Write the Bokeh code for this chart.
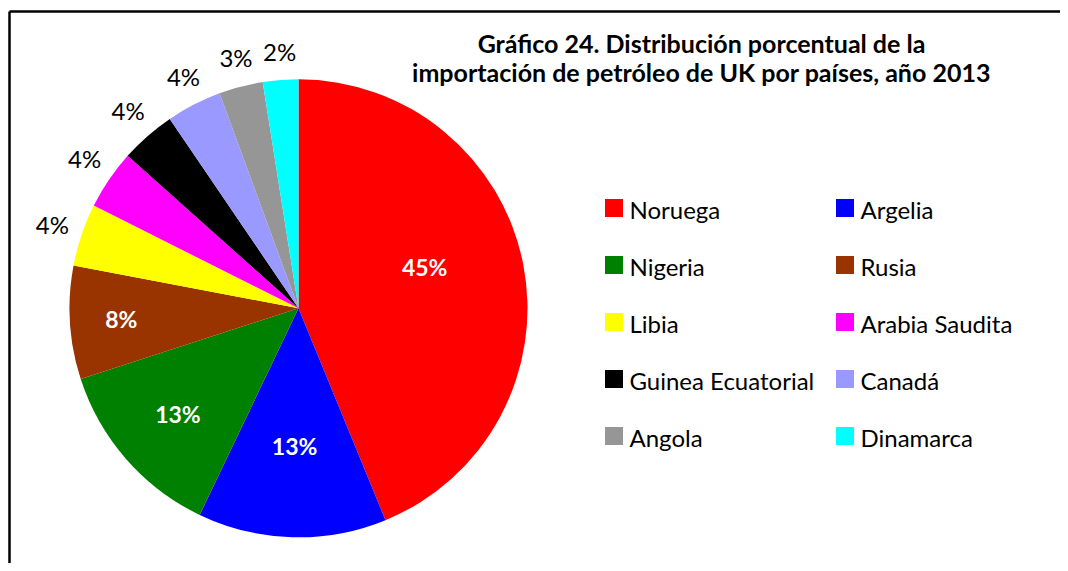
import numpy as np
from bokeh.plotting import figure
from bokeh.models import Range1d, ColumnDataSource
from bokeh.core.properties import value
from bokeh.embed import file_html
from bokeh.resources import INLINE

# ---- data ----
countries = ["Noruega", "Argelia", "Nigeria", "Rusia", "Libia", "Arabia Saudita",
             "Guinea Ecuatorial", "Canadá", "Angola", "Dinamarca"]
shares = [43.8, 13.3, 12.9, 8.0, 4.4, 4.2, 3.9, 3.9, 3.1, 2.5]
pct_labels = ["45%", "13%", "13%", "8%", "4%", "4%", "4%", "4%", "3%", "2%"]
title_lines = ["Gráfico 24. Distribución porcentual de la",
               "importación de petróleo de UK por países, año 2013"]

# ---- styles ----
colors = ["#FF0000", "#0000FF", "#008000", "#993300", "#FFFF00", "#FF00FF",
          "#000000", "#9999FF", "#969696", "#00FFFF"]
inside = [True, True, True, True, False, False, False, False, False, False]
label_rfrac = [0.58, 0.60, 0.70, 0.775, 1.135, 1.14, 1.14, 1.13, 1.13, 1.125]
label_angle_nudge = [7.0, 0, 0, 0, 0, -0.8, -0.5, -0.8, -0.6, -0.3]  # degrees
FONT = "Lato"

W, H = 1060, 563
# ranges chosen so that one data unit is one screen pixel, y pointing up
X0, Y0 = -8, 8
CX, CY, R = 290.0, 263.2, 229.0
FRAME_L, FRAME_T = 1.0, 560.0

p = figure(width=W, height=H, x_range=Range1d(X0, X0 + W), y_range=Range1d(Y0, Y0 + H),
           output_backend="svg", toolbar_location=None, min_border=0,
           x_axis_location=None, y_axis_location=None)
p.grid.visible = False
p.outline_line_color = None
p.background_fill_color = "white"
p.border_fill_color = "white"

# chart-area frame: only its left and top edges fall inside the picture
p.segment(x0=[FRAME_L, FRAME_L], y0=[FRAME_T, FRAME_T],
          x1=[X0 + W + 20, FRAME_L], y1=[FRAME_T, Y0 - 20],
          line_color="black", line_width=2.5)

frac = np.array(shares) / sum(shares)
cum = np.cumsum(frac)
start = cum - frac
start_angle = np.pi / 2 - 2 * np.pi * cum
end_angle = np.pi / 2 - 2 * np.pi * start
mid = np.pi / 2 - 2 * np.pi * (start + frac / 2)

src = ColumnDataSource(dict(start=start_angle, end=end_angle, color=colors, name=countries))
p.wedge(x=CX, y=CY, radius=R, start_angle="start", end_angle="end",
        fill_color="color", line_color=None, source=src)

# data labels
ang = mid + np.radians(label_angle_nudge)
lx = CX + np.array(label_rfrac) * R * np.cos(ang)
ly = CY + np.array(label_rfrac) * R * np.sin(ang)
ins = np.array(inside)
p.text(x=lx[ins], y=ly[ins], text=[t for t, i in zip(pct_labels, inside) if i],
       text_color="white", text_font=value(FONT), text_font_style="bold",
       text_font_size="23px", text_align="center", text_baseline="middle")
p.text(x=lx[~ins], y=ly[~ins], text=[t for t, i in zip(pct_labels, inside) if not i],
       text_color="black", text_font=value(FONT),
       text_font_size="24px", text_align="center", text_baseline="middle")

# legend (2 columns)
col_x = [605.5, 836.5]
row_y0, row_step = 363.5, 57.0
lg_x = [col_x[i % 2] for i in range(len(countries))]
lg_y = [row_y0 - row_step * (i // 2) for i in range(len(countries))]
p.rect(x=lg_x, y=lg_y, width=18, height=18, fill_color=colors, line_color=None)
p.text(x=[x + 15.5 for x in lg_x], y=[y - 1 for y in lg_y], text=countries,
       text_color="black", text_font=value(FONT), text_font_size="24px",
       text_align="left", text_baseline="middle")

# title
p.text(x=[693, 693], y=[528.5, 499.5], text=title_lines, text_color="black",
       text_font=value(FONT), text_font_style="bold", text_font_size="25px",
       text_align="center", text_baseline="middle")

open("out.html", "w").write(file_html(p, INLINE))
